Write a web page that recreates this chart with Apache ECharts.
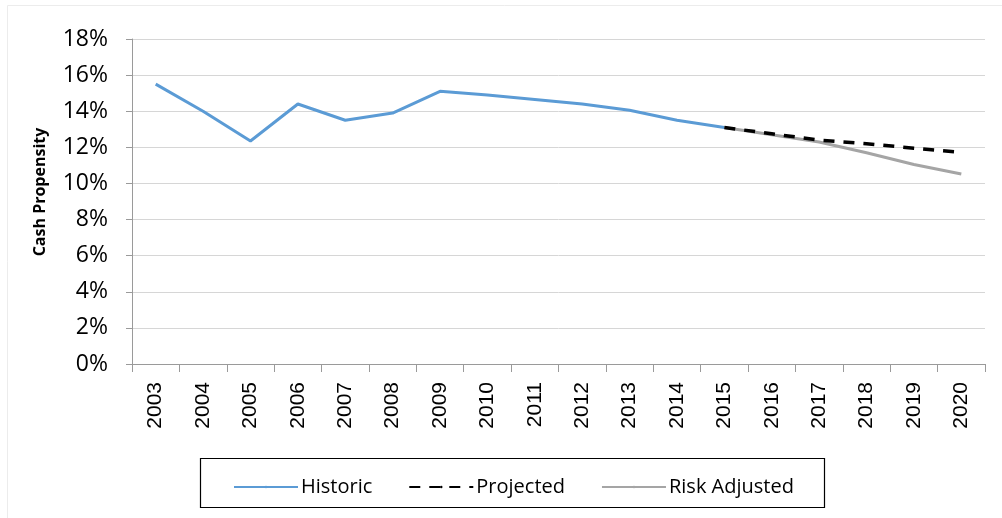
<!DOCTYPE html>
<html><head><meta charset="utf-8">
<script src="https://cdn.jsdelivr.net/npm/echarts@6/dist/echarts.min.js"></script>
<style>html,body{margin:0;padding:0;background:#fff}#c{width:1002px;height:518px}</style>
</head><body><div id="c"></div>
<script>
var years = ['2003','2004','2005','2006','2007','2008','2009','2010','2011','2012','2013','2014','2015','2016','2017','2018','2019','2020'];
var historic = [15.5,14.0,12.35,14.4,13.5,13.9,15.1,14.9,14.65,14.4,14.05,13.5,13.1,null,null,null,null,null];
var projected = [null,null,null,null,null,null,null,null,null,null,null,null,13.1,12.75,12.4,12.2,11.95,11.72];
var riskAdjusted = [null,null,null,null,null,null,null,null,null,null,null,null,13.1,12.7,12.3,11.7,11.05,10.52];
var yTicks = [0,2,4,6,8,10,12,14,16,18];
var yAxisTitle = 'Cash Propensity';

var chart = echarts.init(document.getElementById('c'));
chart.setOption({
  animation: false,
  backgroundColor: '#fff',
  grid: {left: 132, right: 17, top: 39, bottom: 154, containLabel: false},
  graphic: [
    {type:'line', shape:{x1:7.5,y1:5.5,x2:1002,y2:5.5}, style:{stroke:'#ececec',lineWidth:1}, silent:true},
    {type:'line', shape:{x1:7.5,y1:5.5,x2:7.5,y2:518}, style:{stroke:'#ececec',lineWidth:1}, silent:true},
    {type:'rect', shape:{x:200.5,y:458.5,width:624,height:49}, style:{fill:'none',stroke:'#000',lineWidth:1.2}, z:-1},
    {type:'text', x:40, y:192, rotation:Math.PI/2,
     style:{text:yAxisTitle, fontFamily:'Open Sans', fontWeight:'bold', fontSize:16, fill:'#000', align:'center', verticalAlign:'middle'}}
  ],
  legend: {
    top: 472, left: 228,
    itemWidth: 64, itemHeight: 3, itemGap: 36,
    textStyle: {fontFamily: 'Open Sans', fontSize: 20, color: '#000', padding:[0,0,0,-2]},
    data: ['Historic','Projected','Risk Adjusted']
  },
  xAxis: {
    type: 'category', data: years, boundaryGap: true,
    axisLine: {lineStyle: {color: '#9a9a9a', width: 1}},
    axisTick: {show: true, length: 8, lineStyle: {color: '#9a9a9a'}},
    axisLabel: {rotate: 90, margin: 18, fontFamily: 'Liberation Sans', fontSize: 21, color: '#000', interval: 0}
  },
  yAxis: {
    type: 'value', min: 0, max: 18, interval: 2,
    axisLine: {show: true, lineStyle: {color: '#9a9a9a', width: 1}},
    axisTick: {show: true, length: 6, lineStyle: {color: '#9a9a9a'}},
    splitLine: {lineStyle: {color: '#d6d6d6', width: 1}},
    axisLabel: {margin: 24, fontFamily: 'Open Sans', fontSize: 23, color: '#000',
      formatter: function(v){ return yTicks.indexOf(v) >= 0 ? v + '%' : ''; }}
  },
  series: [
    {name: 'Historic', type: 'line', data: historic, symbol: 'none', z: 3,
     lineStyle: {color: '#5b9bd5', width: 3}, itemStyle: {color: '#5b9bd5'}},
    {name: 'Projected', type: 'line', data: projected, symbol: 'none', z: 4,
     lineStyle: {color: '#000', width: 3.5, type: [11, 9]}, itemStyle: {color: '#000'}},
    {name: 'Risk Adjusted', type: 'line', data: riskAdjusted, symbol: 'none', z: 2,
     lineStyle: {color: '#a5a5a5', width: 3}, itemStyle: {color: '#a5a5a5'}}
  ]
});
</script></body></html>
